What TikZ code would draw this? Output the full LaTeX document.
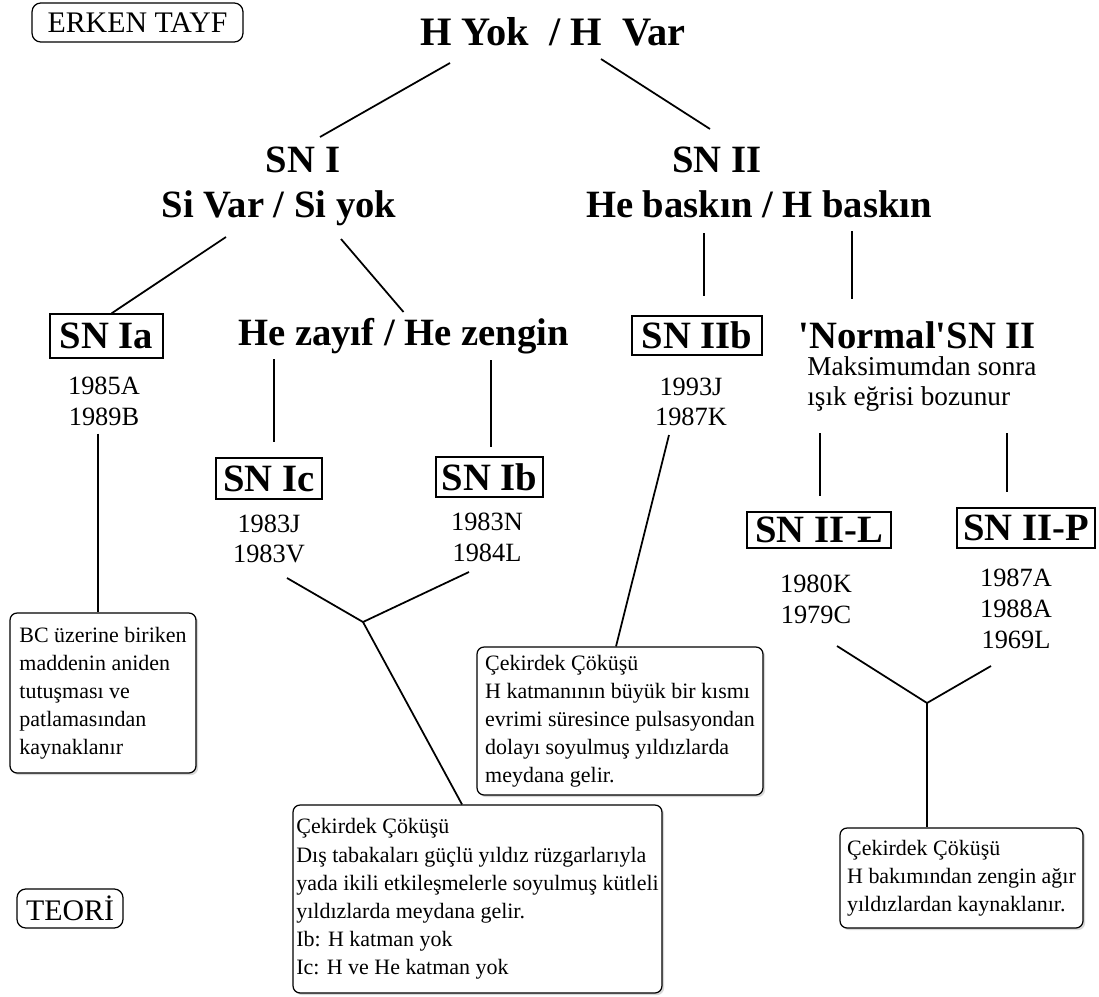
\documentclass[tikz,border=0pt]{standalone}
\usepackage{fontspec}
\setmainfont{Liberation Serif}
\usetikzlibrary{calc,shadows}
\tikzset{
    title/.style={font=\fontsize{22}{24}\selectfont\bfseries, inner sep=0pt, anchor=base},
    typebox/.style={draw, line width=0.7pt, font=\fontsize{22}{24}\selectfont\bfseries, inner sep=0pt},
    years/.style={font=\fontsize{15}{17.5}\selectfont, align=center, inner sep=0pt},
    note/.style={draw, line width=0.7pt, rounded corners=4pt, fill=white, align=left, inner sep=0pt,
                 font=\fontsize{12.5}{16}\selectfont,
                 drop shadow={shadow xshift=1.2pt, shadow yshift=-1.2pt, fill=gray!60}},
    tag/.style={draw, line width=0.7pt, rounded corners=5pt, font=\fontsize{17}{20}\selectfont, inner sep=0pt},
    link/.style={line width=1pt}
}

\begin{document}
\begin{tikzpicture}[x=0.02cm, y=-0.02cm]
    \useasboundingbox (0,0) rectangle (1099,997);
    % side labels
    \node[tag, minimum width=4.22cm, minimum height=0.78cm] (erken) at (137.5,22.5) {ERKEN TAYF};
    \node[tag, minimum width=2.12cm, minimum height=0.78cm] (teori) at (70,908.5) {TEORİ};
    % headings
    \node[title, font=\fontsize{23}{26}\selectfont\bfseries] (hv) at (553,46) {H Yok~~/ H~~Var};
    \node[title] (sn1) at (303,173) {SN I};
    \node[title] (sn1sub) at (279,217) {Si Var / Si yok};
    \node[title] (sn2) at (717,173) {SN II};
    \node[title] (sn2sub) at (759,217) {He baskın / H baskın};
    \node[typebox, minimum width=2.26cm, minimum height=0.88cm] (snIa) at (106.5,336) {SN Ia};
    \node[title] (hez) at (403.5,345) {He zayıf / He zengin};
    \node[typebox, minimum width=2.6cm, minimum height=0.78cm] (snIIb) at (697,335.5) {SN IIb};
    \node[title] (normal) at (917,348) {\textquotesingle Normal\textquotesingle SN II};
    \node[font=\fontsize{15.5}{17}\selectfont, align=left, inner sep=0pt, anchor=west] (nsub) at (807,384)
        {Maksimumdan sonra\\ışık eğrisi bozunur};
    \node[typebox, minimum width=2.12cm, minimum height=0.82cm] (snIc) at (269,478.5) {SN Ic};
    \node[typebox, minimum width=2.14cm, minimum height=0.8cm] (snIb) at (489.5,477) {SN Ib};
    \node[typebox, minimum width=2.88cm, minimum height=0.72cm] (snIIL) at (819,530) {SN II-L};
    \node[typebox, minimum width=2.76cm, minimum height=0.8cm] (snIIP) at (1026,528) {SN II-P};
    % examples
    \node[years] (yIa) at (104,401) {1985A\\1989B};
    \node[years] (yIc) at (269,539) {1983J\\1983V};
    \node[years] (yIb) at (487,537) {1983N\\1984L};
    \node[years] (yIIb) at (691,402) {1993J\\1987K};
    \node[years] (yIIL) at (816,599) {1980K\\1979C};
    \node[years] (yIIP) at (1016,609) {1987A\\1988A\\1969L};
    % theory boxes
    \node[note, minimum width=3.72cm, minimum height=3.2cm] (nIa) at (103,693)
        {BC üzerine biriken\\maddenin aniden\\tutuşması ve\\patlamasından\\kaynaklanır};
    \node[note, minimum width=5.72cm, minimum height=2.96cm] (note2) at (620,721)
        {Çekirdek Çöküşü\\H katmanının büyük bir kısmı\\evrimi süresince pulsasyondan\\dolayı soyulmuş yıldızlarda\\meydana gelir.};
    \node[note, minimum width=7.38cm, minimum height=3.76cm] (note3) at (477.5,899)
        {Çekirdek Çöküşü\\Dış tabakaları güçlü yıldız rüzgarlarıyla\\yada ikili etkileşmelerle soyulmuş kütleli\\yıldızlarda meydana gelir.\\Ib: H katman yok\\Ic: H ve He katman yok};
    \node[note, minimum width=4.86cm, minimum height=2cm] (note4) at (961.5,878)
        {Çekirdek Çöküşü\\H bakımından zengin ağır\\yıldızlardan kaynaklanır.};
    % tree lines
    \draw[link] ($(hv.base)+(-103,17)$) -- ($(sn1.base)+(17,-36)$);
    \draw[link] ($(hv.base)+(48,13)$) -- ($(sn2.base)+(-7,-44)$);
    \draw[link] ($(sn1sub.base)+(-53,20)$) -- ($(snIa.north)+(5,0)$);
    \draw[link] ($(sn1sub.base)+(62,22)$) -- ($(hez.base)+(0,-33)$);
    \draw[link] ($(sn2sub.base)+(-55,16)$) -- ($(snIIb.north)+(7,-19)$);
    \draw[link] ($(sn2sub.base)+(93,14)$) -- ($(normal.base)+(-65,-49)$);
    \draw[link] ($(hez.base)+(-129.5,14)$) -- ($(snIc.north)+(5,-15)$);
    \draw[link] ($(hez.base)+(87.5,15)$) -- ($(snIb.north)+(1.5,-9)$);
    \draw[link] ($(nsub.west)+(13,49)$) -- ($(snIIL.north)+(1,-15)$);
    \draw[link] ($(nsub.west)+(200,49)$) -- ($(snIIP.north)+(-19,-15)$);
    % to the theory boxes
    \draw[link] ($(yIa.south)+(-6,8)$) -- ($(nIa.north)+(-5,0)$);
    \coordinate (jI) at (363,622);
    \draw[link] ($(yIc)+(18,39)$) -- (jI) -- ($(yIb)+(-18,35)$);
    \draw[link] (jI) -- ($(note3.north)+(-15.5,0)$);
    \draw[link] ($(yIIb)+(-22,33)$) -- ($(note2.north)+(-4,0)$);
    \coordinate (jII) at (927,703);
    \draw[link] ($(yIIL)+(21,47)$) -- (jII) -- ($(yIIP)+(-25,57)$);
    \draw[link] (jII) -- ($(note4.north)+(-34.5,0)$);
\end{tikzpicture}
\end{document}
